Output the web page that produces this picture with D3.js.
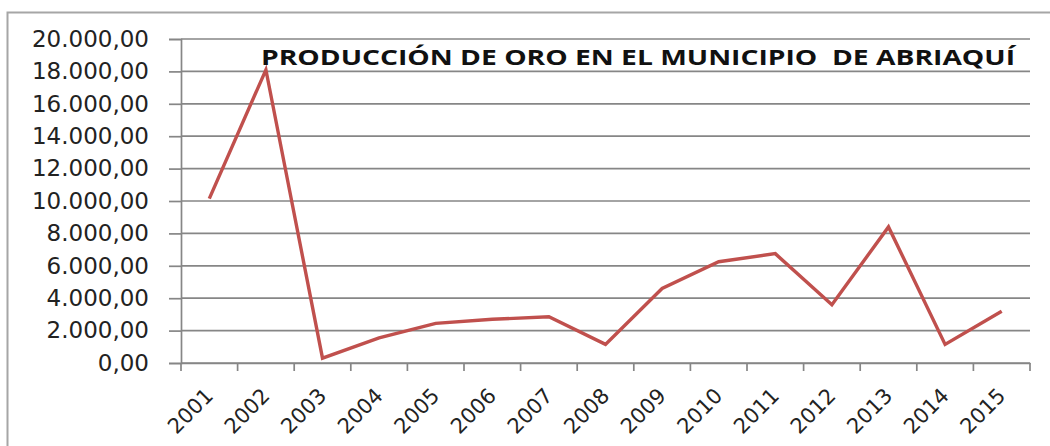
<!DOCTYPE html>
<html>
<head>
<meta charset="utf-8">
<script src="https://cdn.jsdelivr.net/npm/d3@7"></script>
<style>
  html, body { margin: 0; padding: 0; background: #fff; }
  svg { display: block; }
  .tick text { font-family: "DejaVu Sans", Verdana, sans-serif; fill: #222; }
</style>
</head>
<body>
<svg id="chart" width="1050" height="446"></svg>
<script>
// Gold production, Abriaquí municipality
const years = ["2001", "2002", "2003", "2004", "2005", "2006", "2007", "2008",
               "2009", "2010", "2011", "2012", "2013", "2014", "2015"];
const production = [10150, 18100, 300, 1550, 2450, 2700, 2850, 1150,
                    4600, 6250, 6750, 3600, 8400, 1150, 3200];
const yTicks = [0, 2000, 4000, 6000, 8000, 10000, 12000, 14000, 16000, 18000, 20000];
const title = "PRODUCCIÓN DE ORO EN EL MUNICIPIO  DE ABRIAQUÍ";

const svg = d3.select("#chart");
const plotLeft = 181, plotRight = 1030, plotTop = 39, plotBottom = 363;

// outer chart frame (runs off the right/bottom of the picture)
svg.append("rect")
  .attr("x", 7.5).attr("y", 12.5)
  .attr("width", 1100).attr("height", 500)
  .attr("fill", "none").attr("stroke", "#a6a6a6").attr("stroke-width", 2);

const x = d3.scaleBand().domain(years).range([plotLeft, plotRight]);
const y = d3.scaleLinear().domain([0, 20000]).range([plotBottom, plotTop]);

const fmt = v => {
  const s = d3.format(",.2f")(v);
  return s.replace(/,/g, "#").replace(".", ",").replace(/#/g, ".");
};

// gridlines
svg.append("g")
  .selectAll("line")
  .data(yTicks)
  .join("line")
  .attr("x1", plotLeft).attr("x2", plotRight)
  .attr("y1", d => y(d)).attr("y2", d => y(d))
  .attr("stroke", "#868686").attr("stroke-width", 1.7);

// y axis
const yAxis = svg.append("g")
  .attr("transform", `translate(${plotLeft},0)`)
  .call(d3.axisLeft(y).tickValues(yTicks).tickFormat(fmt).tickSize(12).tickPadding(20));
yAxis.select(".domain").attr("stroke", "#868686").attr("stroke-width", 1.7);
yAxis.selectAll(".tick line").attr("stroke", "#868686").attr("stroke-width", 1.7);
yAxis.selectAll(".tick text").attr("font-size", 23);

// x axis, ticks between categories
const xAxis = svg.append("g")
  .attr("transform", `translate(0,${plotBottom})`)
  .call(d3.axisBottom(x).tickSize(0).tickFormat(d => d));
xAxis.select(".domain").attr("stroke", "#868686").attr("stroke-width", 1.7);
xAxis.selectAll(".tick text")
  .attr("font-size", 21)
  .attr("text-anchor", "end")
  .attr("dy", 0)
  .attr("transform", "translate(3,32) rotate(-45)");
svg.append("g")
  .selectAll("line")
  .data(years.concat([null]))
  .join("line")
  .attr("x1", (d, i) => plotLeft + i * x.step())
  .attr("x2", (d, i) => plotLeft + i * x.step())
  .attr("y1", plotBottom).attr("y2", plotBottom + 8)
  .attr("stroke", "#868686").attr("stroke-width", 1.7);

// series line
const line = d3.line()
  .x((d, i) => x(years[i]) + x.bandwidth() / 2)
  .y(d => y(d));
svg.append("path")
  .datum(production)
  .attr("d", line)
  .attr("fill", "none")
  .attr("stroke", "#c0504d")
  .attr("stroke-width", 3.4)
  .attr("stroke-linejoin", "miter");

// title
svg.append("text")
  .attr("x", 261).attr("y", 65)
  .attr("font-family", "'Open Sans', 'DejaVu Sans', sans-serif")
  .attr("font-weight", "bold")
  .attr("font-size", 22)
  .attr("fill", "#111")
  .style("white-space", "pre")
  .attr("textLength", 754)
  .attr("lengthAdjust", "spacingAndGlyphs")
  .text(title);
</script>
</body>
</html>
